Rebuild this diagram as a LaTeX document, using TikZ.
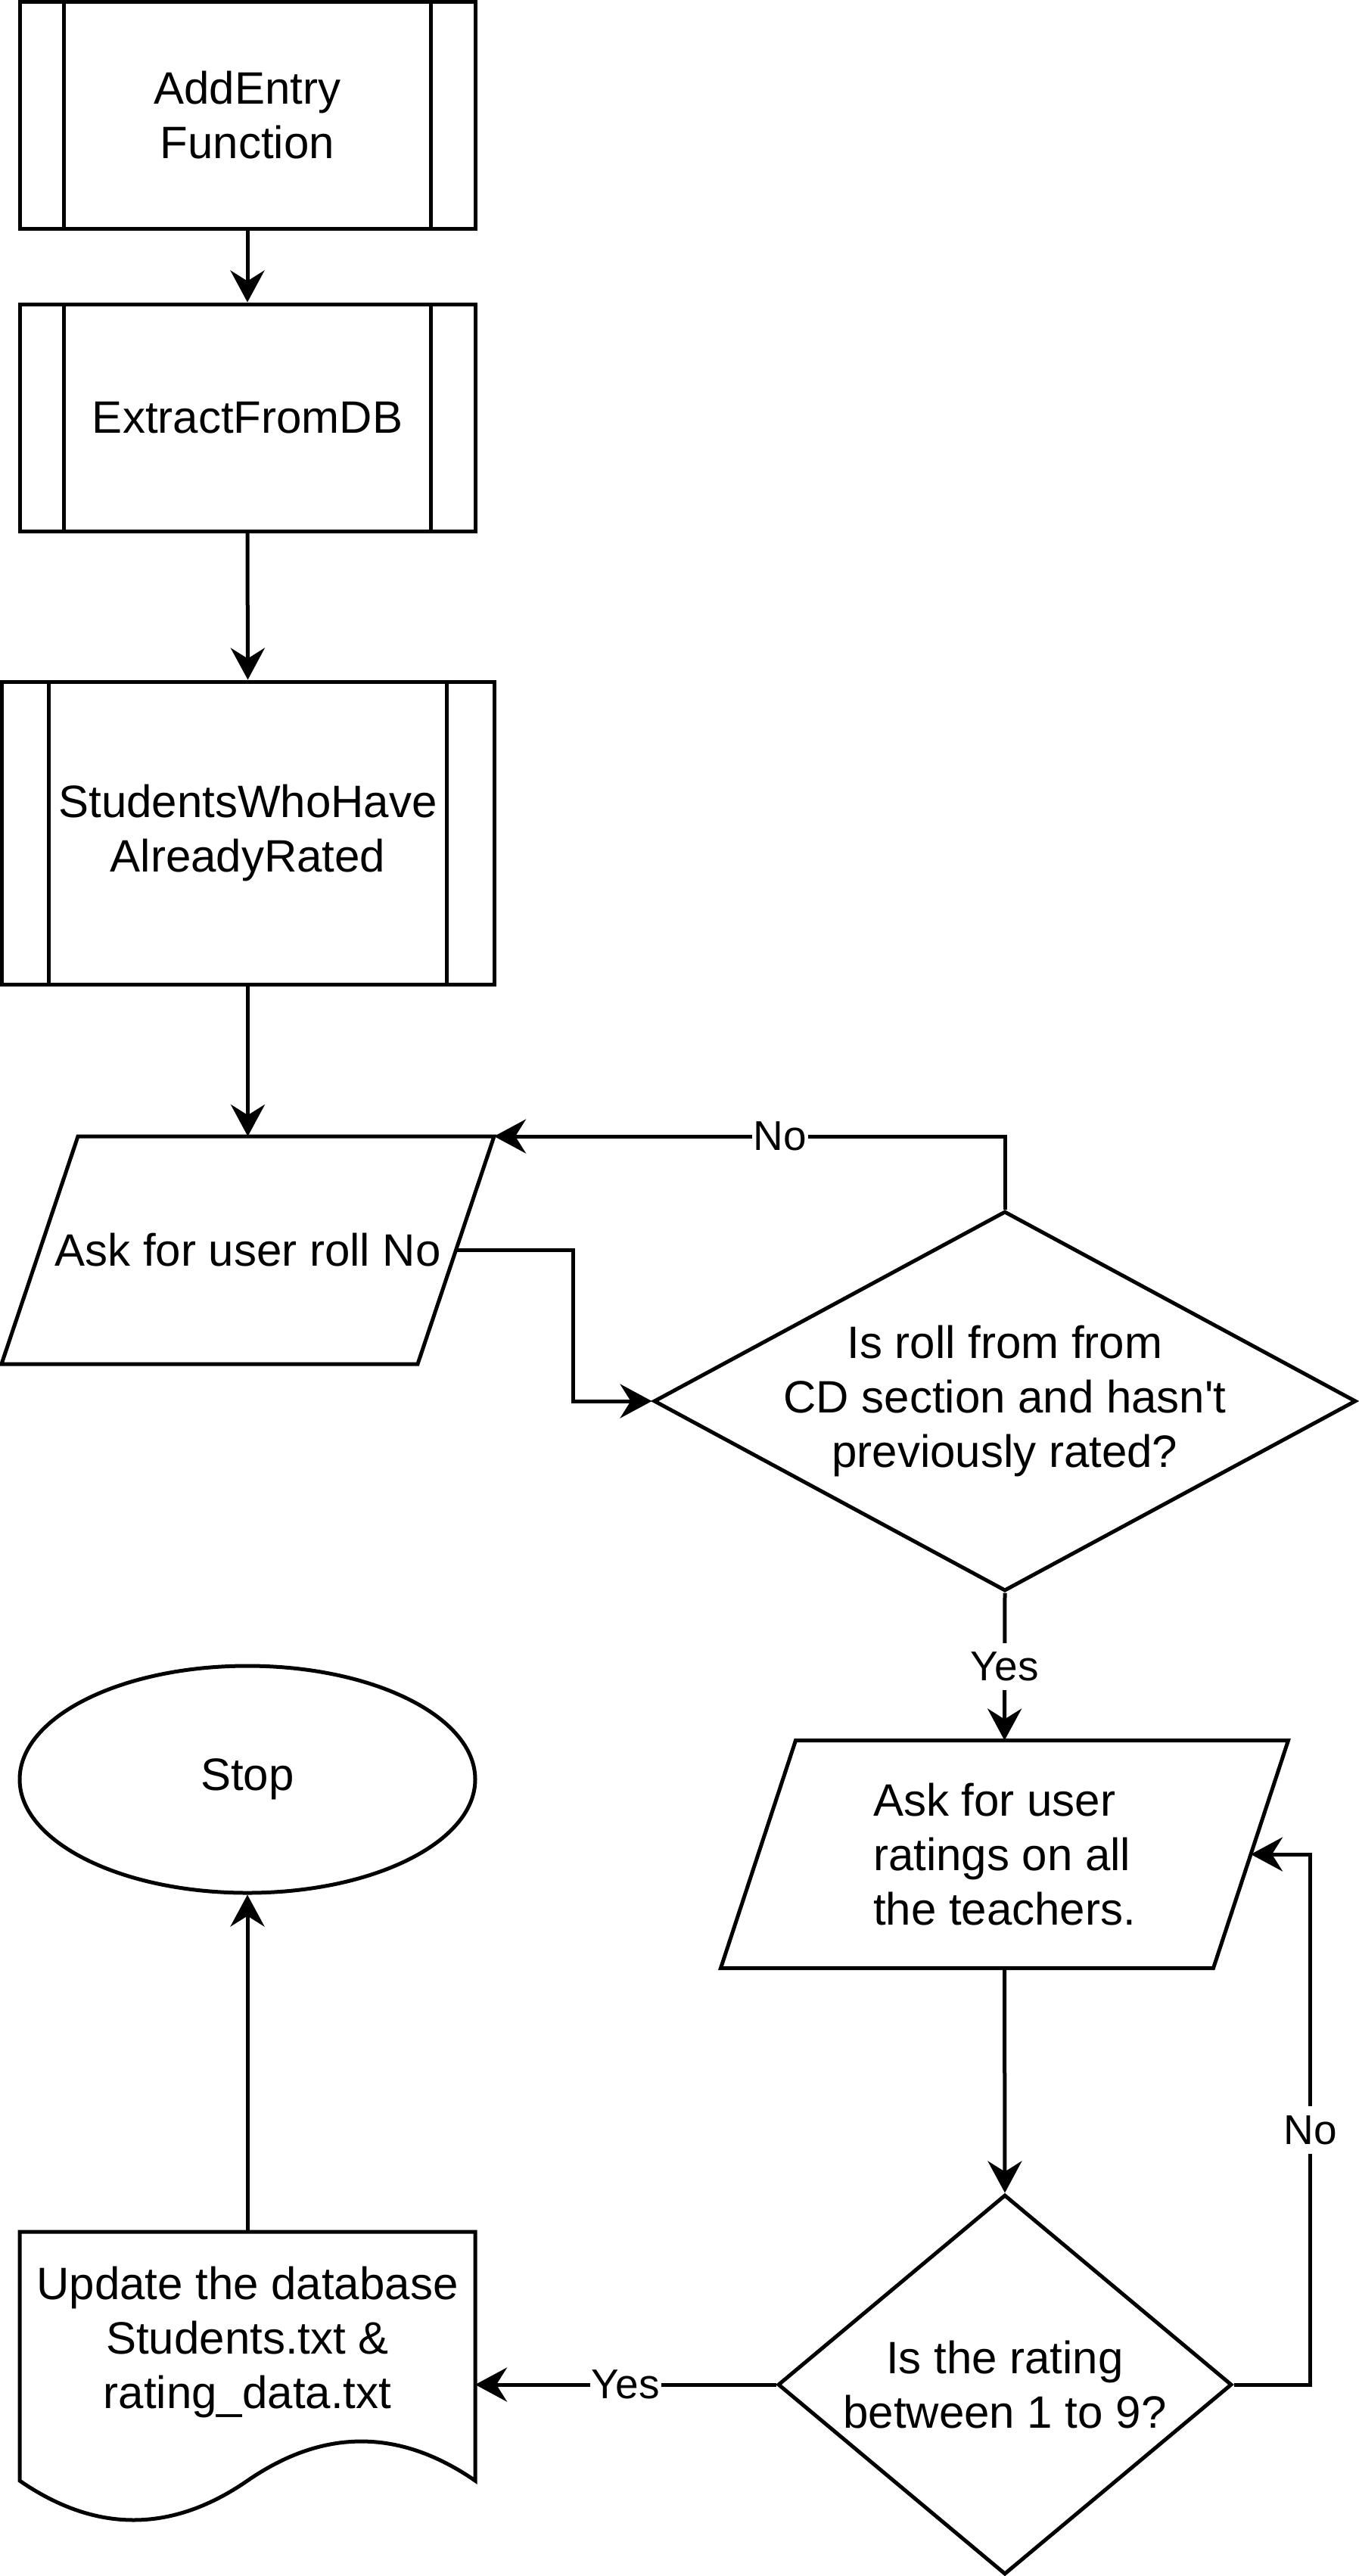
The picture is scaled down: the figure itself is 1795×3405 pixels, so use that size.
\documentclass[tikz,border=0pt]{standalone}
\usepackage{fontspec}
\setmainfont{Liberation Sans}
\usetikzlibrary{shapes.geometric,arrows.meta}

\begin{document}
\begin{tikzpicture}[x=0.5pt, y=-0.5pt, line width=2.5pt,
    font=\fontsize{30}{36}\selectfont,
    every node/.style={align=center},
    proc/.style={draw, rectangle, minimum width=301pt, minimum height=150pt},
    io/.style={rectangle, outer sep=0pt, minimum width=275pt, minimum height=150.5pt},
    dec/.style={draw, diamond, inner sep=0pt},
    lbl/.style={fill=white, inner xsep=1pt, inner ysep=6pt, font=\fontsize{27.5}{33}\selectfont},
    arr/.style={-{Stealth[length=21pt, width=22.5pt, inset=7pt]}}]
  \useasboundingbox (0, 0) rectangle (1795, 3405);

  \node [proc] (add) at (327, 152) {AddEntry\\Function};
  \draw ([xshift=30.5pt]add.north west) to ([xshift=30.5pt]add.south west);
  \draw ([xshift=-30.5pt]add.north east) to ([xshift=-30.5pt]add.south east);

  \node [proc] (ext) at (327, 552) {ExtractFromDB};
  \draw ([xshift=30.5pt]ext.north west) to ([xshift=30.5pt]ext.south west);
  \draw ([xshift=-30.5pt]ext.north east) to ([xshift=-30.5pt]ext.south east);

  \node [proc, minimum width=325.5pt, minimum height=200pt] (rated) at (327.5, 1101) {StudentsWhoHave\\AlreadyRated};
  \draw ([xshift=32.5pt]rated.north west) to ([xshift=32.5pt]rated.south west);
  \draw ([xshift=-32.5pt]rated.north east) to ([xshift=-32.5pt]rated.south east);

  \node [io] (roll) at (327.5, 1652.5) {Ask for user roll No};
  \draw ([xshift=25.25pt]roll.north west) -- ([xshift=25.25pt]roll.north east)
    -- ([xshift=-25.25pt]roll.south east) -- ([xshift=-25.25pt]roll.south west) -- cycle;
  \node [dec, aspect=1.85, inner xsep=-15pt, minimum width=464pt, minimum height=251pt] (check) at (1328, 1852) {Is roll from from\\CD section and hasn\textquotesingle t\\previously rated?};

  \node [io, minimum width=325.5pt] (rate) at (1327.5, 2451) [align=left] {Ask for user\\ratings on all\\the teachers.};
  \draw ([xshift=24.75pt]rate.north west) -- ([xshift=24.75pt]rate.north east)
    -- ([xshift=-24.75pt]rate.south east) -- ([xshift=-24.75pt]rate.south west) -- cycle;
  \node [dec, aspect=1.2, minimum width=300pt, minimum height=251pt] (range) at (1328, 3152) {Is the rating\\between 1 to 9?};

  \node [draw, ellipse, minimum width=301pt, minimum height=150pt] (stop) at (327, 2352) {Stop};

  \node [outer sep=0pt, minimum width=301pt, minimum height=146pt] (upd) at (327, 3096) {Update the database\\Students.txt \&\\rating\_data.txt};
  \draw (upd.north west) -- (upd.north east) -- ++(0, 329)
    .. controls +(-100.3, -69.3) and +(100.3, -69.3) .. ++(-301, 0)
    .. controls +(-100.3, 69.3) and +(100.3, 69.3) .. ++(-301, 0) -- cycle;

  \draw [arr] (add.south) to (ext.north);
  \draw [arr] (ext.south) to (rated.north);
  \draw [arr] (rated.south) to (roll.north);
  \draw [arr] (roll.east) -- ++(155, 0) |- (check.west);
  \draw [arr] (check.north) |- node [lbl, pos=0.72] {No} ([xshift=25.25pt]roll.north east);
  \draw [arr] (check.south) to node [lbl] {Yes} (rate.north);
  \draw [arr] (rate.south) to (range.north);
  \draw [arr] (range.east) -- ++(101, 0) |- node [lbl, pos=0.24] {No} (rate.east);
  \draw [arr] (range.west) to node [lbl] {Yes} (range.west -| upd.east);
  \draw [arr] (upd.north) to (stop.south);
\end{tikzpicture}
\end{document}
